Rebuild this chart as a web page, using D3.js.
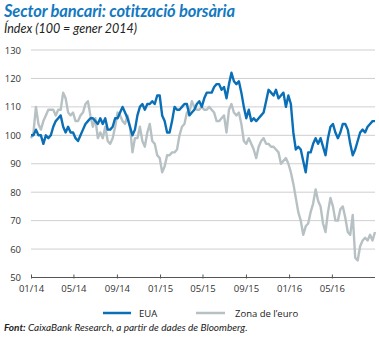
<!DOCTYPE html>
<html><head><meta charset="utf-8">
<script src="https://cdn.jsdelivr.net/npm/d3@7"></script>
<style>body{margin:0;background:#fff}svg{display:block}</style>
</head><body>
<svg id="c" width="379" height="338"></svg>
<script>
// Weekly dates (Wednesdays), Jan 2014 – Aug 2016
const dates = [
"2014-01-01","2014-01-08","2014-01-15","2014-01-22","2014-01-29","2014-02-05","2014-02-12","2014-02-19","2014-02-26",
"2014-03-05","2014-03-12","2014-03-19","2014-03-26","2014-04-02","2014-04-09","2014-04-16","2014-04-23","2014-04-30",
"2014-05-07","2014-05-14","2014-05-21","2014-05-28","2014-06-04","2014-06-11","2014-06-18","2014-06-25",
"2014-07-02","2014-07-09","2014-07-16","2014-07-23","2014-07-30","2014-08-06","2014-08-13","2014-08-20","2014-08-27",
"2014-09-03","2014-09-10","2014-09-17","2014-09-24","2014-10-01","2014-10-08","2014-10-15","2014-10-22","2014-10-29",
"2014-11-05","2014-11-12","2014-11-19","2014-11-26","2014-12-03","2014-12-10","2014-12-17","2014-12-24","2014-12-31",
"2015-01-07","2015-01-14","2015-01-21","2015-01-28","2015-02-04","2015-02-11","2015-02-18","2015-02-25",
"2015-03-04","2015-03-11","2015-03-18","2015-03-25","2015-04-01","2015-04-08","2015-04-15","2015-04-22","2015-04-29",
"2015-05-06","2015-05-13","2015-05-20","2015-05-27","2015-06-03","2015-06-10","2015-06-17","2015-06-24",
"2015-07-01","2015-07-08","2015-07-15","2015-07-22","2015-07-29","2015-08-05","2015-08-12","2015-08-19","2015-08-26",
"2015-09-02","2015-09-09","2015-09-16","2015-09-23","2015-09-30","2015-10-07","2015-10-14","2015-10-21","2015-10-28",
"2015-11-04","2015-11-11","2015-11-18","2015-11-25","2015-12-02","2015-12-09","2015-12-16","2015-12-23","2015-12-30",
"2016-01-06","2016-01-13","2016-01-20","2016-01-27","2016-02-03","2016-02-10","2016-02-17","2016-02-24",
"2016-03-02","2016-03-09","2016-03-16","2016-03-23","2016-03-30","2016-04-06","2016-04-13","2016-04-20","2016-04-27",
"2016-05-04","2016-05-11","2016-05-18","2016-05-25","2016-06-01","2016-06-08","2016-06-15","2016-06-22","2016-06-29",
"2016-07-06","2016-07-13","2016-07-20","2016-07-27","2016-08-03","2016-08-10","2016-08-17","2016-08-24","2016-08-31"
];
const eua = [
100,100,102,100,100,97,100,99,100,103,105,106,107,103,101,103,101,101,99,98,
100,102,104,105,106,106,105,104,106,104,106,102,102,103,106,106,108,110,108,106,
103,100,102,107,110,111,109,111,111,112,111,114,114,107,105,101,101,105,110,109,
109,110,111,111,107,108,109,111,112,110,113,115,115,115,117,118,118,116,117,113,
118,122,119,118,119,115,110,106,109,105,106,105,106,107,108,112,116,115,114,116,
113,114,115,110,114,111,101,95,96,95,91,87,94,94,97,99,97,99,96,93,
99,103,104,101,99,101,104,104,102,97,93,95,98,101,102,101,103,104,105,105
];
const euro = [
99,101,110,104,102,105,107,109,109,109,107,109,109,115,113,108,107,108,105,105,
107,108,111,112,107,103,106,99,101,99,103,98,97,99,103,108,107,105,104,107,
103,94,99,99,103,98,96,101,104,98,97,93,92,87,89,93,93,94,94,95,
100,103,104,108,108,112,110,109,109,110,109,109,110,109,108,105,105,106,107,101,
109,111,108,107,108,104,98,97,99,97,95,92,96,98,99,97,97,96,96,95,
94,90,91,92,90,87,83,78,73,70,65,68,69,73,76,81,77,75,69,66,
73,78,75,70,70,74,75,71,66,65,72,57,56,61,63,64,63,65,63,66
];
const yTicks = [50,60,70,80,90,100,110,120,130];
const xTickLabels = ["01/14","05/14","09/14","01/15","05/15","09/15","01/16","05/16"];
const seriesNames = ["EUA","Zona de l’euro"];
const colors = {EUA:"#0a6fb6", euro:"#b7c1c4"};

const parse = d3.timeParse("%Y-%m-%d");
const tickParse = d3.timeParse("%m/%y");
const svg = d3.select("#c");
const font = "'Open Sans', 'Noto Sans', sans-serif";

const x = d3.scaleTime()
  .domain([parse("2014-01-01"), parse("2016-08-31")])
  .range([31, 375]);
const y = d3.scaleLinear().domain([50,130]).range([277.5, 50]);

// title
svg.append("text").attr("x",4).attr("y",16.5)
  .attr("font-family","Lato, 'Open Sans', sans-serif").attr("font-size",16.5)
  .attr("font-weight","bold").attr("font-style","italic").attr("fill","#1479c0")
  .attr("letter-spacing",-0.15)
  .text("Sector bancari: cotització borsària");
svg.append("text").attr("x",4).attr("y",32.5)
  .attr("font-family","Lato, 'Open Sans', sans-serif").attr("font-size",12.5)
  .attr("font-style","italic").attr("fill","#222")
  .text("Índex (100 = gener 2014)");

// gridlines
svg.append("g").selectAll("line").data(yTicks.filter(d=>d>50)).join("line")
  .attr("x1",31).attr("x2",375).attr("y1",d=>y(d)).attr("y2",d=>y(d))
  .attr("stroke","#cfcfcf").attr("stroke-width",1);

// y labels
svg.append("g").selectAll("text").data(yTicks).join("text")
  .attr("x",21).attr("y",d=>y(d)+3.5).attr("text-anchor","end")
  .attr("font-family",font).attr("font-size",9.5).attr("fill","#333")
  .text(d=>d);

// x axis
const xAxis = d3.axisBottom(x)
  .tickValues(xTickLabels.map(tickParse))
  .tickFormat(d3.timeFormat("%m/%y"))
  .tickSizeOuter(0).tickSize(4).tickPadding(4);
const gx = svg.append("g").attr("transform","translate(0,277.5)").call(xAxis);
gx.select(".domain").attr("stroke","#555").attr("d","M31,0H375");
gx.selectAll(".tick line").attr("stroke","#555").attr("y1",-3).attr("y2",1);
gx.selectAll("text").attr("font-family",font).attr("font-size",9.5).attr("fill","#333");

const data = dates.map((d,i)=>({date:parse(d), eua:eua[i], euro:euro[i]}));
const line = key => d3.line().x(d=>x(d.date)).y(d=>y(d[key])).curve(d3.curveLinear);

svg.append("path").datum(data).attr("d",line("euro"))
  .attr("fill","none").attr("stroke",colors.euro).attr("stroke-width",2.4).attr("stroke-linejoin","round");
svg.append("path").datum(data).attr("d",line("eua"))
  .attr("fill","none").attr("stroke",colors.EUA).attr("stroke-width",2.4).attr("stroke-linejoin","round");

// legend
const lg = svg.append("g").attr("font-family",font).attr("font-size",9.5).attr("fill","#222");
lg.append("line").attr("x1",103).attr("x2",131).attr("y1",313).attr("y2",313)
  .attr("stroke",colors.EUA).attr("stroke-width",2.5);
lg.append("text").attr("x",139).attr("y",316.5).text(seriesNames[0]);
lg.append("line").attr("x1",196).attr("x2",225).attr("y1",313).attr("y2",313)
  .attr("stroke",colors.euro).attr("stroke-width",2.5);
lg.append("text").attr("x",235).attr("y",316.5).text(seriesNames[1]);

// source
const src = svg.append("text").attr("x",4).attr("y",331)
  .attr("font-family","Lato, 'Open Sans', sans-serif").attr("font-size",10)
  .attr("font-style","italic").attr("fill","#222");
src.append("tspan").attr("font-weight","bold").text("Font: ");
src.append("tspan").text("CaixaBank Research, a partir de dades de Bloomberg.");
</script>
</body></html>
